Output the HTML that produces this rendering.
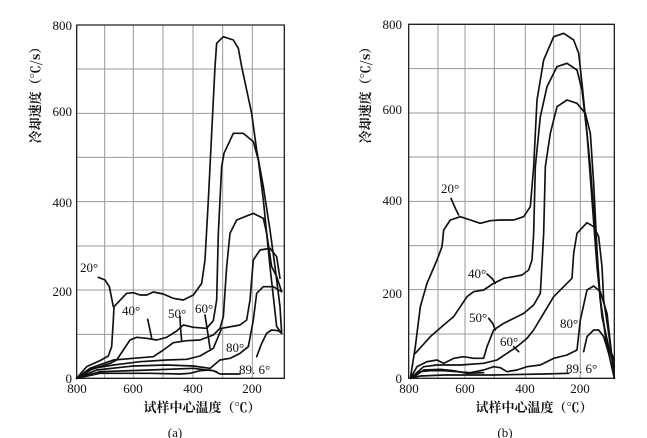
<!DOCTYPE html>
<html><head><meta charset="utf-8"><style>
html,body{margin:0;padding:0;background:#fff;width:647px;height:438px;overflow:hidden}
svg{display:block}
text{font-family:"Liberation Serif","Noto Serif CJK SC",serif;fill:#111}
.cj{font-family:"Noto Serif CJK SC","Noto Sans CJK SC",serif;font-weight:bold}
</style></head><body>
<svg width="647" height="438" viewBox="0 0 647 438" xmlns="http://www.w3.org/2000/svg">
<!-- Panel A -->
<g transform="scale(0.33333)" fill="none" stroke-linejoin="round" stroke-linecap="round">
  <g stroke="#999" stroke-width="3">
    <line x1="314" y1="75" x2="314" y2="1135"/><line x1="400" y1="75" x2="400" y2="1135"/>
    <line x1="489" y1="75" x2="489" y2="1135"/><line x1="579" y1="75" x2="579" y2="1135"/>
    <line x1="668" y1="75" x2="668" y2="1135"/><line x1="757" y1="75" x2="757" y2="1135"/>
    <line x1="230" y1="207" x2="853" y2="207"/><line x1="230" y1="340" x2="853" y2="340"/>
    <line x1="230" y1="472" x2="853" y2="472"/><line x1="230" y1="605" x2="853" y2="605"/>
    <line x1="230" y1="738" x2="853" y2="738"/><line x1="230" y1="870" x2="853" y2="870"/>
    <line x1="230" y1="1003" x2="853" y2="1003"/>
  </g>
  <rect x="230" y="75" width="623" height="1060" stroke="#222" stroke-width="4"/>
  <g stroke="#111" stroke-width="5">
    <polyline points="230,1135 260,1100 300,1082 325,1068 335,1040 340,960 342,920 380,880 400,878 420,885 440,885 460,876 490,882 520,895 550,900 580,885 605,850 615,780 625,600 635,400 645,200 650,130 670,110 700,120 715,145 725,200 740,270 755,340 770,450 790,560 810,690 825,800 840,920 845,1000"/>
    <polyline points="295,832 315,840 328,860 340,920"/>
    <polyline points="230,1135 270,1110 330,1090 350,1080 370,1050 390,1020 410,1012 440,1015 470,1020 500,1012 530,993 550,975 580,982 620,985 640,962 650,900 655,700 665,500 672,460 700,400 730,400 760,425 775,480 790,600 810,800 830,980 845,1000"/>
    <polyline points="230,1135 270,1105 340,1080 400,1075 460,1070 490,1050 520,1028 560,1022 600,1020 640,1005 660,985 670,950 680,800 690,700 710,660 760,640 790,655 800,700 815,800 830,830 845,875"/>
    <polyline points="230,1135 280,1105 340,1095 420,1085 500,1080 560,1078 600,1068 640,1045 665,985 720,975 740,960 750,900 760,780 780,750 810,745 830,770 840,835"/>
    <polyline points="230,1135 290,1110 400,1098 500,1095 580,1098 630,1105 660,1080 690,1075 720,1060 745,1040 760,960 770,880 790,860 820,860 845,875"/>
    <polyline points="230,1135 300,1115 450,1110 580,1105 620,1110 640,1112 660,1122 720,1122"/>
    <polyline points="230,1135 300,1120 450,1120 540,1122 570,1120 600,1112 630,1110 650,1115"/>
    <polyline points="770,1070 785,1030 800,1000 815,990 835,992 845,1000"/>
    <polyline points="443,958 450,990 455,1015"/>
    <polyline points="540,950 542,990 545,1022"/>
    <polyline points="615,945 622,990 630,1045"/>
  </g>
</g>
<g font-size="13">
  <text x="72" y="30" text-anchor="end">800</text>
  <text x="72" y="116" text-anchor="end">600</text>
  <text x="72" y="207" text-anchor="end">400</text>
  <text x="72" y="296" text-anchor="end">200</text>
  <text x="72" y="383" text-anchor="end">0</text>
  <text x="77" y="393" text-anchor="middle">800</text>
  <text x="133" y="393" text-anchor="middle">600</text>
  <text x="193" y="393" text-anchor="middle">400</text>
  <text x="252" y="393" text-anchor="middle">200</text>
  <text x="80" y="272">20°</text>
  <text x="122" y="315">40°</text>
  <text x="168" y="318">50°</text>
  <text x="195" y="313">60°</text>
  <text x="226" y="352">80°</text>
  <text x="239" y="374">89. 6°</text>
  <text x="175" y="437" text-anchor="middle">(a)</text>
  <text class="cj" x="202" y="412" text-anchor="middle" font-size="13">试样中心温度（℃）</text>
  <text class="cj" transform="translate(40,92) rotate(-90)" text-anchor="middle" font-size="13">冷却速度（℃/s）</text>
</g>
<!-- Panel B -->
<g transform="translate(327,0) scale(0.33333)" fill="none" stroke-linejoin="round" stroke-linecap="round">
  <g stroke="#999" stroke-width="3">
    <line x1="333" y1="73" x2="333" y2="1135"/><line x1="414" y1="73" x2="414" y2="1135"/>
    <line x1="502" y1="73" x2="502" y2="1135"/><line x1="595" y1="73" x2="595" y2="1135"/>
    <line x1="680" y1="73" x2="680" y2="1135"/><line x1="760" y1="73" x2="760" y2="1135"/>
    <line x1="245" y1="206" x2="862" y2="206"/><line x1="245" y1="339" x2="862" y2="339"/>
    <line x1="245" y1="471" x2="862" y2="471"/><line x1="245" y1="604" x2="862" y2="604"/>
    <line x1="245" y1="737" x2="862" y2="737"/><line x1="245" y1="869" x2="862" y2="869"/>
    <line x1="245" y1="1002" x2="862" y2="1002"/>
  </g>
  <rect x="245" y="73" width="617" height="1062" stroke="#222" stroke-width="4"/>
  <g stroke="#111" stroke-width="5">
    <polyline points="250,1135 265,1040 280,920 300,850 330,780 345,740 350,690 370,660 400,650 430,660 460,670 490,662 520,660 560,660 590,650 610,620 620,500 630,300 650,180 680,110 710,100 740,120 755,160 765,250 775,350 790,500 805,700 820,900 840,1040 860,1080"/>
    <polyline points="265,1060 310,1010 350,975 380,950 400,920 420,890 440,875 470,870 500,850 530,835 560,830 585,825 605,810 615,780 620,700 625,500 640,350 660,260 690,200 720,190 750,210 765,270 780,400 795,600 810,800 825,950 845,1040 862,1080"/>
    <polyline points="250,1135 270,1100 300,1085 330,1080 350,1090 380,1075 410,1070 440,1075 470,1075 480,1040 500,990 530,970 560,955 590,940 620,915 640,880 650,700 655,500 670,400 690,320 720,300 750,310 775,340 790,400 800,550 810,750 820,900 835,1000 850,1060 862,1100"/>
    <polyline points="250,1135 290,1100 330,1095 400,1095 470,1090 510,1080 540,1060 570,1040 600,1015 620,990 650,940 680,890 710,860 735,835 740,760 750,700 780,668 800,680 815,710 825,800 830,900 845,1000 862,1130"/>
    <polyline points="250,1135 280,1115 310,1112 350,1112 390,1115 430,1118 470,1110 500,1100 520,1103 540,1115 570,1110 600,1100 640,1095 680,1075 720,1065 750,1050 760,960 780,870 800,858 820,875 840,940 862,1135"/>
    <polyline points="250,1135 280,1128 350,1125 500,1125 650,1122 725,1120"/>
    <polyline points="265,1128 290,1110 340,1108 380,1112 420,1120 470,1118"/>
    <polyline points="770,1055 780,1010 800,990 815,990 830,1010 845,1060 862,1135"/>
    <polyline points="372,595 385,625 395,645"/>
    <polyline points="480,822 495,835 505,850"/>
    <polyline points="485,955 497,970 505,990"/>
    <polyline points="560,1040 568,1048 575,1055"/>
  </g>
</g>
<g font-size="13">
  <text x="402" y="29" text-anchor="end">800</text>
  <text x="402" y="114" text-anchor="end">600</text>
  <text x="402" y="205" text-anchor="end">400</text>
  <text x="402" y="298" text-anchor="end">200</text>
  <text x="402" y="383" text-anchor="end">0</text>
  <text x="409" y="393" text-anchor="middle">800</text>
  <text x="465" y="393" text-anchor="middle">600</text>
  <text x="525" y="393" text-anchor="middle">400</text>
  <text x="580" y="393" text-anchor="middle">200</text>
  <text x="441" y="193">20°</text>
  <text x="468" y="278">40°</text>
  <text x="469" y="322">50°</text>
  <text x="500" y="346">60°</text>
  <text x="560" y="328">80°</text>
  <text x="566" y="373">89. 6°</text>
  <text x="505" y="437" text-anchor="middle">(b)</text>
  <text class="cj" x="534" y="412" text-anchor="middle" font-size="13">试样中心温度（℃）</text>
  <text class="cj" transform="translate(370,92) rotate(-90)" text-anchor="middle" font-size="13">冷却速度（℃/s）</text>
</g>
</svg>
</body></html>
